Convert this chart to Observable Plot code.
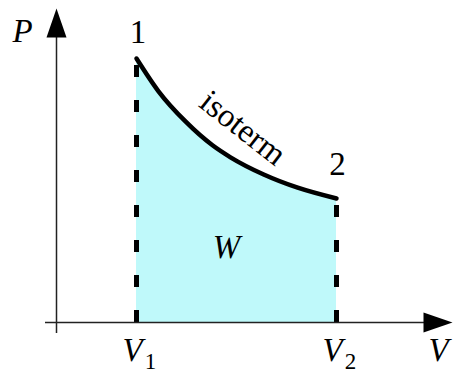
<!DOCTYPE html>
<html>
<head>
<meta charset="utf-8">
<script src="https://cdn.jsdelivr.net/npm/d3@7"></script>
<script src="https://cdn.jsdelivr.net/npm/@observablehq/plot@0.6"></script>
<style>
  html, body { margin: 0; padding: 0; background: #fff; }
  svg { display: block; }
</style>
</head>
<body>
<div id="chart"></div>
<script>
// Isothermal expansion from state 1 to state 2 on a P–V diagram;
// the shaded area under the isotherm is the work W.
const volume   = [2.0, 2.55, 3.23, 3.9, 4.35, 5.18, 6.03, 7.0];
const pressure = [6.6, 5.78, 5.02, 4.43, 4.13, 3.7, 3.37, 3.1];
const stateLabels = ["1", "2"];
const volumeLabels = ["V", "V"];
const volumeSubscripts = ["1", "2"];
const workLabel = "W";
const curveLabel = "isoterm";
const axisNames = ["V", "P"];
// axis extents: from just past the origin to the arrow tip
const vAxis = [-0.275, 9.9];
const pAxis = [-0.275, 7.85];

const isotherm = volume.map((V, i) => ({V, P: pressure[i]}));
const states = [isotherm[0], isotherm[isotherm.length - 1]].map((d, i) => ({
  ...d, label: stateLabels[i], vLabel: volumeLabels[i], sub: volumeSubscripts[i]
}));

// filled arrowhead with its tip at the anchor point, pointing up
const arrowHead = {
  draw(ctx) {
    ctx.moveTo(0, 0);
    ctx.lineTo(-10, 29);
    ctx.lineTo(10, 29);
    ctx.closePath();
  }
};

const serif = "'Liberation Serif', 'Times New Roman', serif";
const fs = 33;
const base = {fontFamily: serif, fill: "#000", lineAnchor: "bottom"};

const chart = Plot.plot({
  width: 453,
  height: 373,
  margin: 0,
  x: {domain: [-1.4, 9.925], axis: null},
  y: {domain: [-1.275, 8.05], axis: null},
  style: {background: "#fff"},
  marks: [
    Plot.areaY(isotherm, {x: "V", y: "P", curve: "monotone-x", fill: "#bff9fa"}),
    Plot.ruleX(states, {x: "V", y1: 0, y2: "P", stroke: "#000", strokeWidth: 5, strokeDasharray: "12,23"}),
    Plot.line(isotherm, {x: "V", y: "P", curve: "monotone-x", stroke: "#000", strokeWidth: 4.5}),
    Plot.ruleY([0], {x1: vAxis[0], x2: vAxis[1] - 0.3, stroke: "#222", strokeWidth: 1.5}),
    Plot.ruleX([0], {y1: pAxis[0], y2: pAxis[1] - 0.3, stroke: "#222", strokeWidth: 1.5}),
    Plot.dot([{V: vAxis[1], P: 0, a: 90}, {V: 0, P: pAxis[1], a: 0}],
      {x: "V", y: "P", rotate: "a", symbol: arrowHead, fill: "#000", stroke: "none"}),
    // state numbers above the end points
    Plot.text([states[0]], {...base, x: "V", y: "P", text: "label", dx: 1.5, dy: -16, fontSize: fs}),
    Plot.text([states[1]], {...base, x: "V", y: "P", text: "label", dx: 1, dy: -24, fontSize: fs}),
    // volume tick labels with subscripts
    Plot.text(states, {...base, x: "V", y: 0, text: "vLabel", dx: -4, dy: 38, fontSize: fs, fontStyle: "italic"}),
    Plot.text(states, {...base, x: "V", y: 0, text: "sub", dx: 14, dy: 46, fontSize: 23}),
    // axis names
    Plot.text([axisNames[0]], {...base, x: vAxis[1], y: 0, dx: -14, dy: 38, fontSize: fs, fontStyle: "italic"}),
    Plot.text([axisNames[1]], {...base, x: 0, y: pAxis[1], dx: -34, dy: 33, fontSize: fs, fontStyle: "italic"}),
    // curve and area labels
    Plot.text([isotherm[4]], {...base, x: "V", y: "P", text: () => curveLabel, dx: 6, dy: -21, rotate: 38, fontSize: fs}),
    Plot.text([states], {...base, x: (s) => (s[0].V + s[1].V) / 2, y: (s) => s[1].P / 2, text: () => workLabel,
      dx: -10, dy: -3, fontSize: fs, fontStyle: "italic"})
  ]
});
document.getElementById("chart").append(chart);
</script>
</body>
</html>
